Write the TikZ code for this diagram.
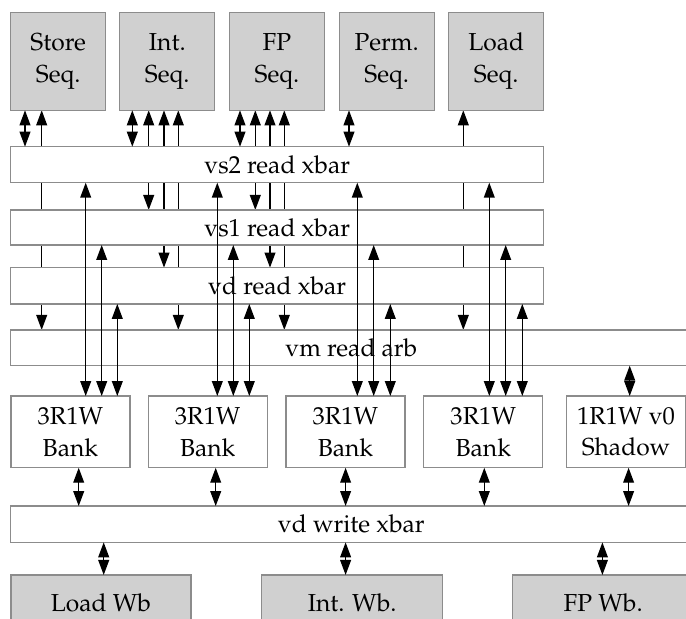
\documentclass[tikz,border=0pt]{standalone}
\usepackage[T1]{fontenc}
\usepackage{mathpazo}
\usetikzlibrary{arrows.meta,backgrounds}
\definecolor{seqfill}{RGB}{208,208,208}
\definecolor{boxline}{RGB}{140,140,140}
\begin{document}
\begin{tikzpicture}[x=0.5pt,y=-0.5pt,
  box/.style={draw=boxline,line width=0.6pt,fill=white,inner sep=0pt,outer sep=0pt,align=center,font=\fontsize{12.3}{15.8}\selectfont},
  seq/.style={box,fill=seqfill},
  link/.style={line width=0.7pt,{Triangle[length=7.5pt,width=5.4pt]}-{Triangle[length=7.5pt,width=5.4pt]}},
]
\useasboundingbox (0,0) rectangle (686,619);
\clip (0,0) rectangle (686,619);
% sequencers
\node[seq,minimum width=47.5pt,minimum height=49pt] (store) at (58.2,61.3) {Store\\Seq.};
\node[seq,minimum width=47.5pt,minimum height=49pt] (int) at (167.3,61.3) {Int.\\Seq.};
\node[seq,minimum width=47.5pt,minimum height=49pt] (fp) at (277,61.3) {FP\\Seq.};
\node[seq,minimum width=47.5pt,minimum height=49pt] (perm) at (386.7,61.3) {Perm.\\Seq.};
\node[seq,minimum width=47.5pt,minimum height=49pt] (load) at (496.3,61.3) {Load\\Seq.};
% xbars
\node[box,minimum width=266.5pt,minimum height=18pt] (vs2) at (277.2,164.7) {vs2 read xbar};
\node[box,minimum width=266.5pt,minimum height=17.5pt] (vs1) at (277.2,227.5) {vs1 read xbar};
\node[box,minimum width=266.5pt,minimum height=18.15pt] (vdr) at (277.2,285.8) {vd read xbar};
\node[box,minimum width=340.65pt,minimum height=17.85pt] (vm) at (351.35,347.8) {vm read arb};
% banks
\node[box,minimum width=59.5pt,minimum height=35.85pt] (b1) at (70.4,431.9) {3R1W\\Bank};
\node[box,minimum width=59.5pt,minimum height=35.85pt] (b2) at (207.7,431.9) {3R1W\\Bank};
\node[box,minimum width=59.5pt,minimum height=35.85pt] (b3) at (345.5,431.9) {3R1W\\Bank};
\node[box,minimum width=59.5pt,minimum height=35.85pt] (b4) at (483.3,431.9) {3R1W\\Bank};
\node[box,minimum width=59.3pt,minimum height=35.85pt] (sh) at (626,431.9) {1R1W v0\\Shadow};
% write xbar
\node[box,minimum width=340.65pt,minimum height=18.15pt] (vdw) at (351.35,524.2) {vd write xbar};
% writebacks
\node[seq,minimum width=90pt,minimum height=27.5pt] (lwb) at (101,602.5) {Load Wb};
\node[seq,minimum width=90.5pt,minimum height=27.5pt] (iwb) at (352.2,602.5) {Int. Wb.};
\node[seq,minimum width=90.5pt,minimum height=27.5pt] (fwb) at (603.2,602.5) {FP Wb.};
% long sequencer lines, hidden behind the xbars
\begin{scope}[on background layer]
\draw[link] (store.south -| 41.7,0) -- (vm.north -| 41.7,0);
\draw[link] (int.south -| 148.7,0) -- (vs1.north -| 148.7,0);
\draw[link] (int.south -| 164,0) -- (vdr.north -| 164,0);
\draw[link] (int.south -| 178.3,0) -- (vm.north -| 178.3,0);
\draw[link] (fp.south -| 255.3,0) -- (vs1.north -| 255.3,0);
\draw[link] (fp.south -| 270,0) -- (vdr.north -| 270,0);
\draw[link] (fp.south -| 284.3,0) -- (vm.north -| 284.3,0);
\draw[link] (load.south -| 463.3,0) -- (vm.north -| 463.3,0);
\end{scope}
% sequencer to vs2
\draw[link] (store.south -| 25,0) -- (vs2.north -| 25,0);
\draw[link] (int.south -| 132.3,0) -- (vs2.north -| 132.3,0);
\draw[link] (fp.south -| 240,0) -- (vs2.north -| 240,0);
\draw[link] (perm.south -| 349,0) -- (vs2.north -| 349,0);
% xbars to banks
\draw[link] (vs2.south -| 85.7,0) -- (b1.north -| 85.7,0);
\draw[link] (vs1.south -| 101.7,0) -- (b1.north -| 101.7,0);
\draw[link] (vdr.south -| 117.3,0) -- (b1.north -| 117.3,0);
\draw[link] (vs2.south -| 217.3,0) -- (b2.north -| 217.3,0);
\draw[link] (vs1.south -| 233.3,0) -- (b2.north -| 233.3,0);
\draw[link] (vdr.south -| 249.3,0) -- (b2.north -| 249.3,0);
\draw[link] (vs2.south -| 357.3,0) -- (b3.north -| 357.3,0);
\draw[link] (vs1.south -| 373.7,0) -- (b3.north -| 373.7,0);
\draw[link] (vdr.south -| 390.3,0) -- (b3.north -| 390.3,0);
\draw[link] (vs2.south -| 489.3,0) -- (b4.north -| 489.3,0);
\draw[link] (vs1.south -| 505.7,0) -- (b4.north -| 505.7,0);
\draw[link] (vdr.south -| 522.3,0) -- (b4.north -| 522.3,0);
\draw[link] (vm.south -| 629.7,0) -- (sh.north -| 629.7,0);
% banks to write xbar
\draw[link] (b1.south -| 78.7,0) -- (vdw.north -| 78.7,0);
\draw[link] (b2.south -| 215.7,0) -- (vdw.north -| 215.7,0);
\draw[link] (b3.south -| 345.6,0) -- (vdw.north -| 345.6,0);
\draw[link] (b4.south -| 484.3,0) -- (vdw.north -| 484.3,0);
\draw[link] (sh.south -| 628.6,0) -- (vdw.north -| 628.6,0);
% write xbar to writebacks
\draw[link] (vdw.south -| 103.7,0) -- (lwb.north -| 103.7,0);
\draw[link] (vdw.south -| 345.6,0) -- (iwb.north -| 345.6,0);
\draw[link] (vdw.south -| 602.4,0) -- (fwb.north -| 602.4,0);
\end{tikzpicture}
\end{document}
